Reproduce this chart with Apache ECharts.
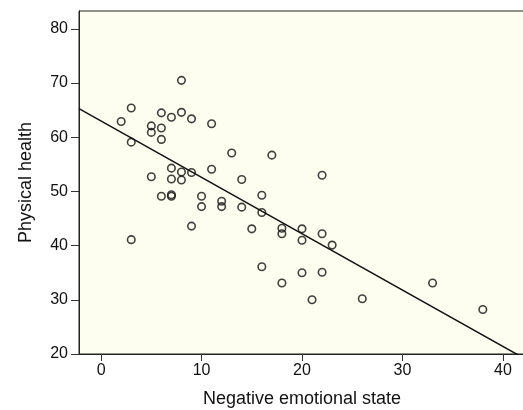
<!DOCTYPE html>
<html>
<head>
<meta charset="utf-8">
<script src="https://cdn.jsdelivr.net/npm/echarts@6/dist/echarts.min.js"></script>
<style>
html,body{margin:0;padding:0;background:#fff;}
#chart{width:523px;height:410px;}
</style>
</head>
<body>
<div id="chart"></div>
<script>
// Data
const negEmotion = [2,3,3,3,5,5,5,6,6,6,6,7,7,7,7,7,8,8,8,8,9,9,9,10,10,11,11,12,12,13,14,14,15,16,16,16,17,18,18,18,20,20,20,21,22,22,22,23,26,33,38];
const physHealth = [62.9,65.4,59.1,41.1,62.1,60.9,52.7,64.5,61.7,59.6,49.1,63.7,54.3,52.3,49.4,49.1,70.5,64.6,53.6,52.1,63.4,53.5,43.6,49.1,47.2,62.5,54.1,48.2,47.2,57.1,52.2,47.1,43.1,49.3,46.1,36.1,56.7,43.2,42.2,33.1,43.1,41.0,35.0,30.0,53.0,42.2,35.1,40.1,30.2,33.1,28.2];
const xTicks = [0,10,20,30,40];
const yTicks = [20,30,40,50,60,70,80];
// Fit line (as drawn in the reference)
const fitIntercept = 63.0;
const fitSlope = -1.04;
const xRange = [-2.2, 42.2];
const yRange = [20, 83.3];

const points = negEmotion.map((x,i)=>[x, physHealth[i]]);
const fitLine = xRange.map(x=>[x, fitIntercept + fitSlope*x]);

const font = 'Liberation Sans, Arial, Helvetica, sans-serif';
const chart = echarts.init(document.getElementById('chart'));
chart.setOption({
  animation:false,
  backgroundColor:'#ffffff',
  grid:{left:79,top:11,right:-2,bottom:56,outerBoundsMode:'none',containLabel:false,show:true,backgroundColor:'#fefef0',borderColor:'#222',borderWidth:1},
  xAxis:{
    type:'value',min:xRange[0],max:xRange[1],
    name:'Negative emotional state',nameLocation:'middle',nameGap:36,
    nameTextStyle:{fontFamily:font,fontSize:18,color:'#111'},
    axisLine:{show:true,onZero:false,lineStyle:{color:'#222',width:1}},
    axisTick:{show:true,length:7,customValues:xTicks,lineStyle:{color:'#333'}},
    axisLabel:{customValues:xTicks,fontFamily:font,fontSize:16,color:'#111',margin:9},
    splitLine:{show:false}
  },
  yAxis:{
    type:'value',min:yRange[0],max:yRange[1],
    name:'Physical health',nameLocation:'middle',nameGap:44,
    nameTextStyle:{fontFamily:font,fontSize:18,color:'#111'},
    axisLine:{show:true,onZero:false,lineStyle:{color:'#222',width:1}},
    axisTick:{show:true,length:8,customValues:yTicks,lineStyle:{color:'#333'}},
    axisLabel:{customValues:yTicks,fontFamily:font,fontSize:16,color:'#111',margin:11},
    splitLine:{show:false}
  },
  series:[
    {type:'line',data:fitLine,symbol:'none',clip:true,lineStyle:{color:'#111',width:1.5},silent:true},
    {type:'scatter',data:points,symbol:'circle',symbolSize:7.5,itemStyle:{color:'rgba(0,0,0,0)',borderColor:'#111',borderWidth:1.6}}
  ]
});
</script>
</body>
</html>
